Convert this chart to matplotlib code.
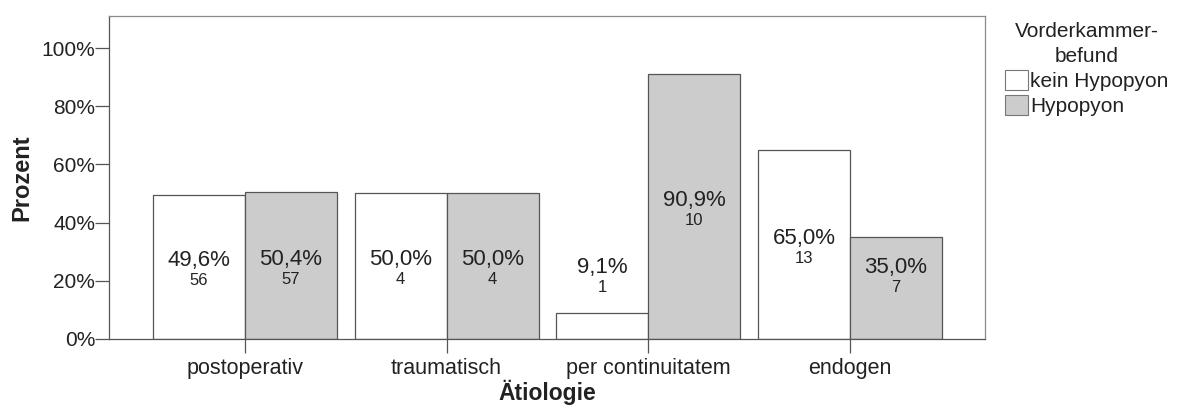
import matplotlib
matplotlib.use("Agg")
import matplotlib.pyplot as plt
import numpy as np
from matplotlib.patches import Patch

plt.rcParams["font.family"] = ["Liberation Sans", "DejaVu Sans"]

# ---------------------------------------------------------------------
# DATA
# ---------------------------------------------------------------------
categories = ["postoperativ", "traumatisch", "per continuitatem", "endogen"]
pct_kein = [49.6, 50.0, 9.1, 65.0]
pct_hypo = [50.4, 50.0, 90.9, 35.0]
n_kein = [56, 4, 1, 13]
n_hypo = [57, 4, 10, 7]
series_names = ["kein Hypopyon", "Hypopyon"]
yticks = [0, 20, 40, 60, 80, 100]

# ---------------------------------------------------------------------
# STYLE
# ---------------------------------------------------------------------
FILL = {"kein Hypopyon": "white", "Hypopyon": "#cccccc"}
EDGE = "#555555"
FRAME = "#8a8a8a"
TXT = "#222222"
W = 0.456

fig = plt.figure(figsize=(11.8, 4.05), dpi=100)
ax = fig.add_axes([0.0924, 0.163, 0.7423, 0.7975])

x = np.arange(len(categories))
series = [(pct_kein, n_kein, -W / 2), (pct_hypo, n_hypo, W / 2)]
for (vals, counts, off), name in zip(series, series_names):
    ax.bar(x + off, vals, width=W, color=FILL[name], edgecolor=EDGE,
           linewidth=0.9, zorder=2)
    for xi, v, c in zip(x, vals, counts):
        yc = max(v / 2, 22.5)
        lbl = f"{v:.1f}%".replace(".", ",")
        ax.annotate(lbl, (xi + off, yc), xytext=(0, -3), textcoords="offset points",
                    ha="center", va="bottom", fontsize=16, color=TXT)
        ax.annotate(str(c), (xi + off, yc), xytext=(0, -4.5), textcoords="offset points",
                    ha="center", va="top", fontsize=12, color=TXT)

ax.set_xlim(-0.674, 3.67)
ax.set_ylim(0, 111)
ax.set_yticks(yticks)
ax.set_yticklabels([f"{t}%" for t in yticks], fontsize=15, color=TXT)
ax.set_xticks(x)
ax.set_xticklabels(categories, fontsize=15.5, color=TXT)
ax.tick_params(axis="both", direction="out", length=10, width=0.9, color="#555555")
ax.tick_params(axis="x", pad=4)
ax.tick_params(axis="y", pad=0)

for side in ["top", "right"]:
    ax.spines[side].set_color(FRAME)
for side in ["left", "bottom"]:
    ax.spines[side].set_color("#555555")
for s in ax.spines.values():
    s.set_linewidth(0.9)

ax.set_ylabel("Prozent", fontsize=17, fontweight="bold", color=TXT, labelpad=6)
ax.set_xlabel("Ätiologie", fontsize=16.5, fontweight="bold", color=TXT, labelpad=0)

handles = [Patch(facecolor=FILL[n], edgecolor="#777777", linewidth=0.8)
           for n in series_names]
leg = fig.legend(handles, series_names, loc="upper left",
                 bbox_to_anchor=(0.852, 0.945), frameon=False,
                 title="Vorderkammer-\nbefund", fontsize=15, title_fontsize=15,
                 handlelength=1.1, handleheight=1.1, handletextpad=0.08,
                 labelspacing=0.2, borderpad=0.0, borderaxespad=0.0)
leg.get_title().set_multialignment("center")
leg.get_title().set_linespacing(1.35)
leg.get_title().set_color(TXT)
for t in leg.get_texts():
    t.set_color(TXT)

fig.savefig("out.png", dpi=100)
